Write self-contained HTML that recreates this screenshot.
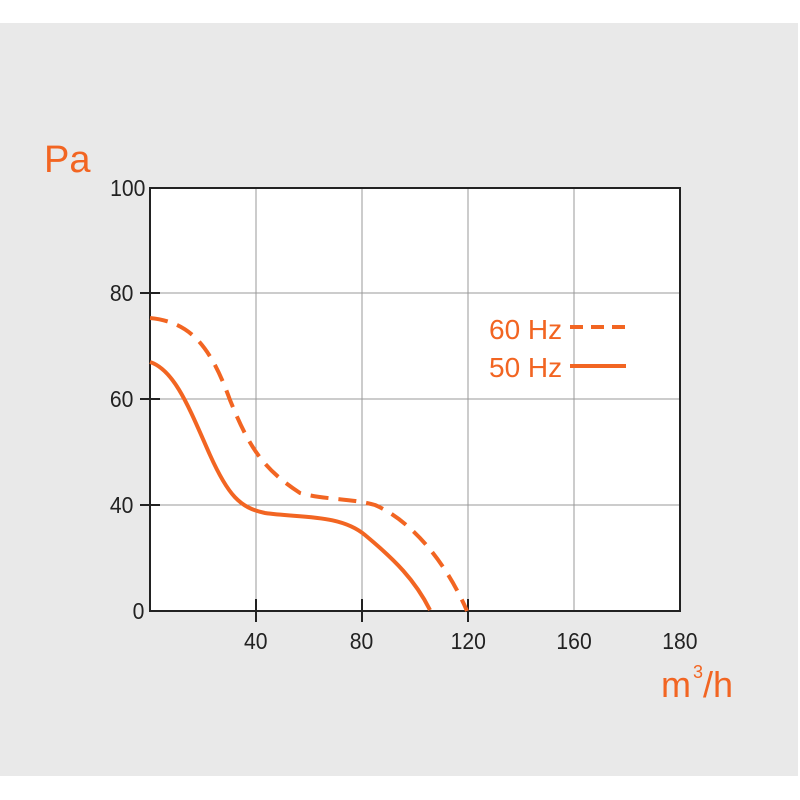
<!DOCTYPE html>
<html><head><style>body{margin:0;background:#fff}svg{display:block}</style></head><body>
<svg width="800" height="800" xmlns="http://www.w3.org/2000/svg" font-family="Liberation Sans, sans-serif">
<rect x="0" y="23" width="798" height="753" fill="#e9e9e9"/>
<rect x="150" y="188" width="530" height="423" fill="#fff"/>
<g stroke="#999" stroke-width="1">
<line x1="256" y1="188" x2="256" y2="611"/><line x1="362" y1="188" x2="362" y2="611"/>
<line x1="468" y1="188" x2="468" y2="611"/><line x1="574" y1="188" x2="574" y2="611"/>
<line x1="150" y1="293" x2="680" y2="293"/><line x1="150" y1="399" x2="680" y2="399"/>
<line x1="150" y1="505" x2="680" y2="505"/>
</g>
<rect x="150" y="188" width="530" height="423" fill="none" stroke="#222" stroke-width="2"/>
<g stroke="#222" stroke-width="2">
<line x1="140" y1="293" x2="160" y2="293"/><line x1="140" y1="399" x2="160" y2="399"/><line x1="140" y1="505" x2="160" y2="505"/>
<line x1="256" y1="599" x2="256" y2="622"/><line x1="362" y1="599" x2="362" y2="622"/><line x1="468" y1="599" x2="468" y2="622"/>
</g>
<g fill="#222" font-size="23" text-anchor="end" transform="scale(0.92,1)">
<text x="158" y="196">100</text><text x="145" y="301">80</text><text x="145" y="407">60</text><text x="145" y="513">40</text><text x="157" y="619">0</text>
</g>
<g fill="#222" font-size="23" text-anchor="middle" transform="scale(0.92,1)">
<text x="278" y="649">40</text><text x="393" y="649">80</text><text x="509" y="649">120</text><text x="624" y="649">160</text><text x="739" y="649">180</text>
</g>
<text x="44" y="172" fill="#f26522" font-size="38">Pa</text>
<text x="661" y="697" fill="#f26522" font-size="36">m</text>
<text x="693" y="678" fill="#f26522" font-size="18">3</text>
<text x="703" y="697" fill="#f26522" font-size="36">/h</text>
<g fill="none" stroke="#f26522" stroke-width="4">
<path d="M150,362 C175,370 190,410 210,455 C228,495 240,508 265,513 C300,518 340,514 365,535 C395,560 415,580 430,610"/>
<path stroke-dasharray="18,10" d="M150,318 C190,322 210,345 230,400 C250,450 265,470 300,493 C325,500 350,498 375,505 C410,520 445,560 467,611"/>
<line x1="570" y1="327" x2="626" y2="327" stroke-dasharray="13,8"/>
<line x1="570" y1="366" x2="626" y2="366"/>
</g>
<text x="489" y="339" fill="#f26522" font-size="28">60 Hz</text>
<text x="489" y="377" fill="#f26522" font-size="28">50 Hz</text>
</svg>
</body></html>
